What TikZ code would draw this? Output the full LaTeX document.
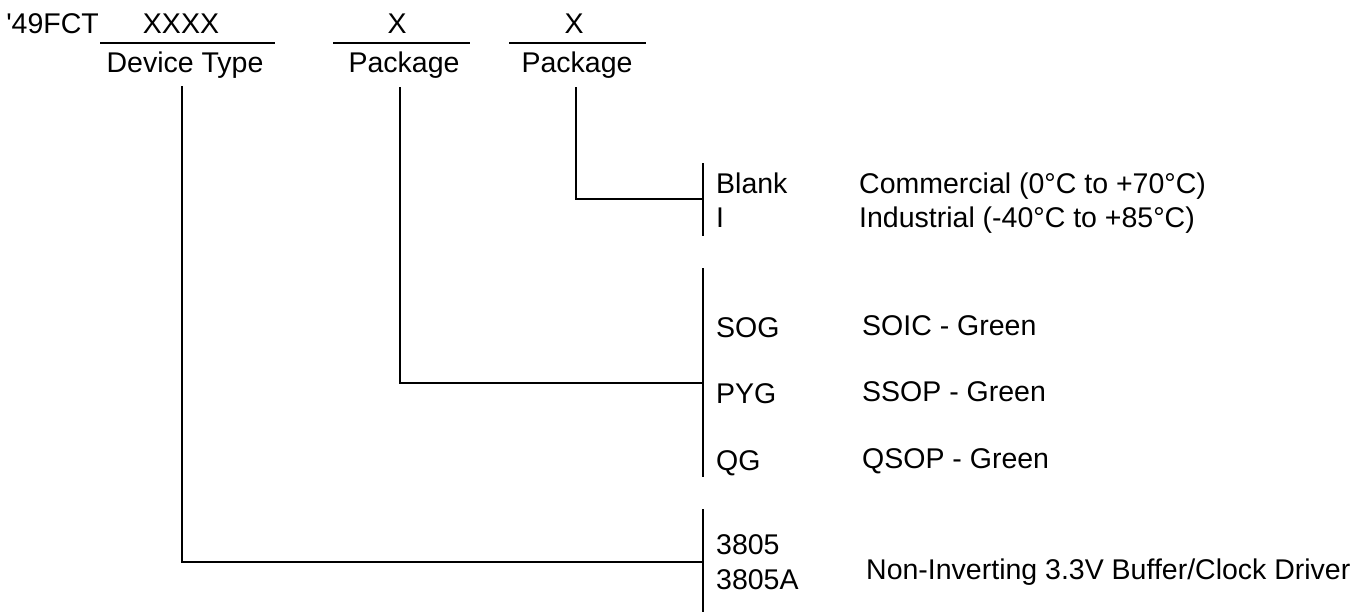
\documentclass[tikz,border=0pt]{standalone}
\usepackage{fontspec}
\setmainfont{Liberation Sans}
\begin{document}
\begin{tikzpicture}[x=1pt,y=-1pt,
  lbl/.style={inner sep=0pt, font=\fontsize{28.5}{34}\selectfont},
  code/.style={lbl, anchor=base west},
  desc/.style={lbl, anchor=base west},
  ln/.style={line width=2pt}]
\useasboundingbox (0,0) rectangle (1362,611);
% header fields
\node[lbl, anchor=base east] (pre) at (99,33) {\textquotesingle 49FCT};
\node[lbl, anchor=base] (xxxx) at (181,33) {XXXX};
\node[lbl, anchor=base] (dtype) at (185,72) {Device Type};
\node[lbl, anchor=base] (x1) at (397,33) {X};
\node[lbl, anchor=base] (pkg1) at (404,72) {Package};
\node[lbl, anchor=base] (x2) at (574,33) {X};
\node[lbl, anchor=base] (pkg2) at (577,72) {Package};
% underlines
\coordinate (u1a) at (100,43); \coordinate (u1b) at (275,43);
\coordinate (u2a) at (333,43); \coordinate (u2b) at (470,43);
\coordinate (u3a) at (509,43); \coordinate (u3b) at (646,43);
\draw[ln] (u1a) -- (u1b);
\draw[ln] (u2a) -- (u2b);
\draw[ln] (u3a) -- (u3b);
% brackets
\coordinate (t1) at (703,163); \coordinate (t1b) at (703,236);
\coordinate (t2) at (703,268); \coordinate (t2b) at (703,477);
\coordinate (t3) at (703,509); \coordinate (t3b) at (703,612);
\draw[ln] (t1) -- (t1b);
\draw[ln] (t2) -- (t2b);
\draw[ln] (t3) -- (t3b);
% connectors
\coordinate (s1) at (182,86); \coordinate (k1) at (182,562); \coordinate (e1) at (703,562);
\coordinate (s2) at (400,87); \coordinate (k2) at (400,383); \coordinate (e2) at (703,383);
\coordinate (s3) at (576,87); \coordinate (k3) at (576,199); \coordinate (e3) at (703,199);
\draw[ln] (s1) -- (k1) -- (e1);
\draw[ln] (s2) -- (k2) -- (e2);
\draw[ln] (s3) -- (k3) -- (e3);
% codes
\node[code] (blank) at (716,193) {Blank};
\node[code] (ind) at (716,227) {I};
\node[code] (sog) at (716,337) {SOG};
\node[code] (pyg) at (716,403) {PYG};
\node[code] (qg) at (716,470) {QG};
\node[code] (c3805) at (716,554) {3805};
\node[code] (c3805a) at (716,589) {3805A};
% descriptions
\node[desc] (dcom) at (859,193) {Commercial (0°C to +70°C)};
\node[desc] (dind) at (859,227) {Industrial (-40°C to +85°C)};
\node[desc] (dsoic) at (862,335) {SOIC - Green};
\node[desc] (dssop) at (862,401) {SSOP - Green};
\node[desc] (dqsop) at (862,468) {QSOP - Green};
\node[desc] (dnon) at (866,579) {Non-Inverting 3.3V Buffer/Clock Driver};
\end{tikzpicture}
\end{document}
